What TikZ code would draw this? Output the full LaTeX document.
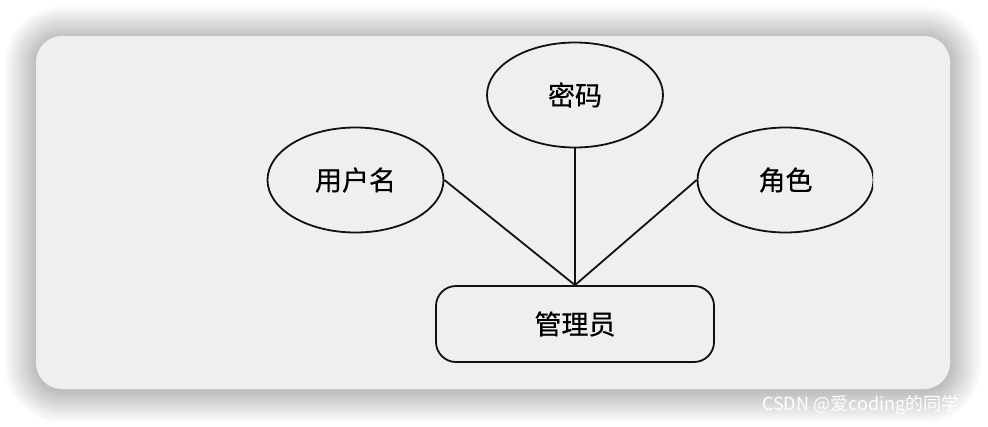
\documentclass[tikz,border=0pt]{standalone}
\usepackage{fontspec}
\newfontfamily\cjk[FakeBold=0.5]{Noto Sans CJK SC}
\newfontfamily\cjkw{Noto Sans CJK SC}
\usetikzlibrary{shapes.geometric}
\definecolor{panel}{HTML}{EFEFEF}
\definecolor{ink}{HTML}{111111}
\tikzset{
  attr/.style={draw=ink, line width=1.8pt, ellipse, minimum width=176pt, minimum height=105pt, inner sep=0pt, font=\cjk\fontsize{27}{30}\selectfont},
  entity/.style={draw=ink, line width=1.8pt, rectangle, rounded corners=20pt, minimum width=278pt, minimum height=76pt, inner sep=0pt, font=\cjk\fontsize{27}{30}\selectfont},
  link/.style={draw=ink, line width=1.8pt}
}
\begin{document}
\begin{tikzpicture}[x=1pt,y=-1pt]
\useasboundingbox (0,0) rectangle (988,426);
\fill[white] (0,0) rectangle (988,426);
% shadow
\foreach \d in {1,...,32}{
  \fill[black, opacity=0.008, rounded corners={26pt+\d pt}] (36-\d,38-\d) rectangle (950+\d,391+\d);
}
\fill[panel, rounded corners=26pt] (36,36) rectangle (950,389);
\begin{scope}
\clip (36,36) rectangle (873,362);
\node[attr] (pw) at (575,95) {密码};
\node[attr] (un) at (355.5,180) {用户名};
\node[attr] (role) at (785.5,180) {角色};
\node[entity] (adm) at (575,324) {管理员};
\draw[link] (un.east) -- (adm.north);
\draw[link] (pw.south) -- (adm.north);
\draw[link] (role.west) -- (adm.north);
\end{scope}
\node[anchor=west, text=white, inner sep=0pt, font=\cjkw\fontsize{18}{20}\selectfont] (wm) at (762,405) {CSDN @爱coding的同学};
\end{tikzpicture}
\end{document}
